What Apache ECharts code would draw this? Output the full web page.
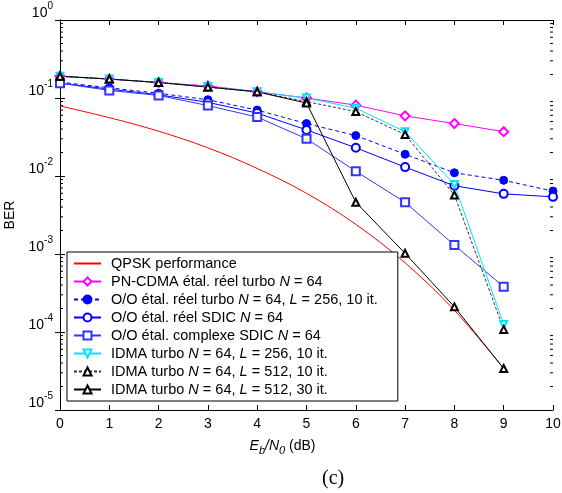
<!DOCTYPE html>
<html><head><meta charset="utf-8">
<script src="https://cdn.jsdelivr.net/npm/echarts@6/dist/echarts.min.js"></script>
<style>html,body{margin:0;padding:0;background:#fff}#c{width:562px;height:493px}</style>
</head><body><div id="c"></div>
<script>
// ---- data ----
const ebn0 = [0,1,2,3,4,5,6,7,8,9,10];
const yTickExp = [-5,-4,-3,-2,-1,0];
const seriesNames = [
  'QPSK performance',
  'PN-CDMA étal. réel turbo N = 64',
  'O/O étal. réel turbo N = 64, L = 256, 10 it.',
  'O/O étal. réel SDIC N = 64',
  'O/O étal. complexe SDIC N = 64',
  'IDMA turbo N = 64, L = 256, 10 it.',
  'IDMA turbo N = 64, L = 512, 10 it.',
  'IDMA turbo N = 64, L = 512, 30 it.'
];
const qpsk      = [0.079,0.056,0.0375,0.023,0.0125,0.006,0.0024,0.00077,0.00019,0.000034];
const pnCdma    = [0.19,0.175,0.158,0.143,0.12,0.1,0.081,0.059,0.047,0.037];
const ooTurbo   = [0.16,0.135,0.115,0.095,0.07,0.047,0.033,0.019,0.011,0.0088,0.0064];
const ooSdic    = [0.155,0.13,0.11,0.088,0.064,0.039,0.023,0.013,0.0075,0.0059,0.0054];
const ooCplx    = [0.155,0.125,0.108,0.08,0.057,0.030,0.0115,0.0046,0.0013,0.00038];
const idma256   = [0.19,0.175,0.158,0.14,0.12,0.1,0.074,0.037,0.0078,0.000125];
const idma512_10= [0.19,0.175,0.158,0.138,0.12,0.09,0.067,0.034,0.0057,0.000108];
const idma512_30= [0.19,0.175,0.158,0.138,0.12,0.086,0.0046,0.00102,0.00021,0.000034];

// ---- build ----
const pts = arr => arr.map((v,i)=>[ebn0[i], v]);
const minorVals = [];
yTickExp.slice(0,-1).forEach(e=>{ for(let d=2; d<=9; d++) minorVals.push([d*Math.pow(10,e)]); });

const FONT = 'Liberation Sans, Arial, sans-serif';
const LFS = 14.5;
const legendRich = {
  n:{fontFamily:FONT,fontSize:LFS,color:'#000'},
  i:{fontFamily:FONT,fontSize:LFS,color:'#000',fontStyle:'italic'}
};
function legendFmt(name){
  return name.split(/\b([NL])(?= =)/).map((p,i)=> i%2 ? '{i|'+p+'}' : (p ? '{n|'+p+'}' : '')).join('');
}
function mk(name, data, color, opts){
  return Object.assign({
    name, type:'line', data:pts(data), symbolSize:8,
    lineStyle:{color, width:1}, itemStyle:{color, borderColor:color, borderWidth:1},
    animation:false, emphasis:{disabled:true}
  }, opts||{});
}
const series = [
  mk(seriesNames[0], qpsk, '#ff0000', {symbol:'none', smooth:0.35}),
  mk(seriesNames[1], pnCdma, '#ff00ff', {symbol:'emptyDiamond', symbolSize:9}),
  mk(seriesNames[2], ooTurbo, '#0000ff', {symbol:'circle', symbolSize:8, lineStyle:{color:'#0000ff',width:1,type:[4,3]}}),
  mk(seriesNames[3], ooSdic, '#0000ff', {symbol:'emptyCircle', symbolSize:8}),
  mk(seriesNames[4], ooCplx, '#3333ff', {symbol:'emptyRect', symbolSize:8}),
  mk(seriesNames[5], idma256, '#00e5ff', {symbol:'emptyTriangle', symbolRotate:180, symbolSize:7}),
  mk(seriesNames[6], idma512_10, '#000000', {symbol:'emptyTriangle', symbolSize:7, lineStyle:{color:'#333',width:1,type:[3,2]}}),
  mk(seriesNames[7], idma512_30, '#000000', {symbol:'emptyTriangle', symbolSize:7, lineStyle:{color:'#000',width:1}}),
  {
    type:'custom', name:'minor', silent:true, animation:false, data:minorVals, z:1,
    encode:{y:0},
    renderItem:function(params, api){
      const v = api.value(0);
      const l = api.coord([0, v]); const r = api.coord([10, v]);
      return {type:'group', children:[
        {type:'line', shape:{x1:l[0],y1:l[1],x2:l[0]+3,y2:l[1]}, style:{stroke:'#000',lineWidth:1}},
        {type:'line', shape:{x1:r[0],y1:r[1],x2:r[0]-3,y2:r[1]}, style:{stroke:'#000',lineWidth:1}}
      ]};
    }
  }
];

const legendData = seriesNames.map((n,i)=> i===0 ? {name:n, itemStyle:{opacity:0}} : {name:n});

const axisLine = {show:true, lineStyle:{color:'#000', width:1}};
const option = {
  backgroundColor:'#fff',
  animation:false,
  title:{text:'(c)', left:317, top:464, textStyle:{fontFamily:'Liberation Serif, Times New Roman, serif', fontSize:20, fontWeight:'normal', color:'#000'}},
  grid:{left:60, right:9, top:20, bottom:83, containLabel:false, outerBoundsMode:'none'},
  legend:{
    data:legendData, orient:'vertical', left:67, top:252,
    backgroundColor:'#fff', borderColor:'#000', borderWidth:1, borderRadius:0,
    padding:[4,20,4,6], itemWidth:27, itemHeight:10, itemGap:3,
    selectedMode:false, symbolRotate:'inherit',
    formatter:legendFmt,
    textStyle:{fontFamily:FONT, fontSize:LFS, color:'#000', padding:[0,0,0,5], rich:legendRich}
  },
  xAxis:[
    {type:'value', min:0, max:10, interval:1, position:'bottom',
     axisLine, axisTick:{show:true, inside:true, length:5, lineStyle:{color:'#000'}},
     splitLine:{show:false},
     axisLabel:{fontFamily:FONT, fontSize:14, color:'#000', margin:7},
     name:'{i|E}{s|b}{i|/N}{s|0}{n| (dB)}', nameLocation:'middle', nameGap:26,
     nameTextStyle:{padding:[0,48,0,0], rich:{
       i:{fontFamily:FONT,fontSize:14,fontStyle:'italic',color:'#000'},
       n:{fontFamily:FONT,fontSize:14,color:'#000'},
       s:{fontFamily:FONT,fontSize:11,fontStyle:'italic',color:'#000',padding:[9,0,0,0]}
     }}},
    {type:'value', min:0, max:10, interval:1, position:'top',
     axisLine, axisTick:{show:true, inside:true, length:5, lineStyle:{color:'#000'}},
     splitLine:{show:false}, axisLabel:{show:false}}
  ],
  yAxis:[
    {type:'log', logBase:10, min:1e-5, max:1, interval:1, position:'left',
     axisLine, axisTick:{show:true, inside:true, length:5, lineStyle:{color:'#000'}},
     splitLine:{show:false}, minorTick:{show:false},
     axisLabel:{margin:7, verticalAlign:'bottom', formatter:function(v){ const e=Math.round(Math.log10(v)); return '{b|10}{s|'+e+'}'; },
       rich:{b:{fontFamily:FONT,fontSize:14,color:'#000',lineHeight:14}, s:{fontFamily:FONT,fontSize:10,color:'#000',lineHeight:10,padding:[0,0,13,0]}}},
     name:'BER', nameLocation:'middle', nameRotate:90, nameGap:27,
     nameTextStyle:{fontFamily:FONT, fontSize:14, color:'#000'}},
    {type:'log', logBase:10, min:1e-5, max:1, interval:1, position:'right',
     axisLine, axisTick:{show:true, inside:true, length:5, lineStyle:{color:'#000'}},
     splitLine:{show:false}, axisLabel:{show:false}}
  ],
  series
};
const chart = echarts.init(document.getElementById('c'), null, {renderer:'canvas'});
chart.setOption(option);
</script></body></html>
